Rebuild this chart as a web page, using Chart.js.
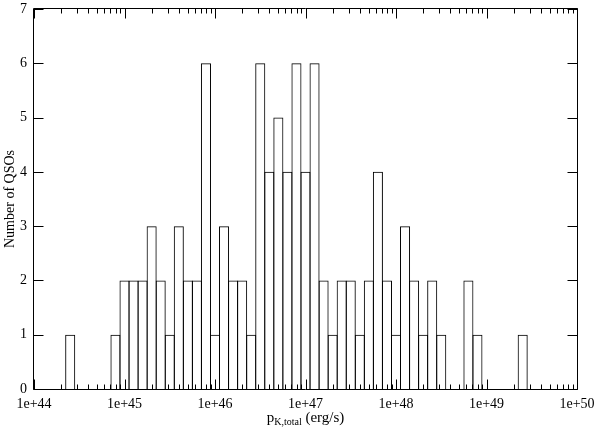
<!DOCTYPE html>
<html>
<head>
<meta charset="utf-8">
<script src="https://cdn.jsdelivr.net/npm/chart.js@4.4.1/dist/chart.umd.min.js"></script>
<style>
  html, body { margin: 0; padding: 0; background: #fff; }
  #wrap { width: 600px; height: 432px; }
</style>
</head>
<body>
<div id="wrap"><canvas id="c" width="600" height="432"></canvas></div>
<script>
// Histogram bins: centres in log10(erg/s), width 0.1 dex
const binCenters = [44.4, 44.9, 45.0, 45.1, 45.2, 45.3, 45.4, 45.5, 45.6, 45.7, 45.8, 45.9,
  46.0, 46.1, 46.2, 46.3, 46.4, 46.5, 46.6, 46.7, 46.8, 46.9, 47.0, 47.1, 47.2, 47.3, 47.4,
  47.5, 47.6, 47.7, 47.8, 47.9, 48.0, 48.1, 48.2, 48.3, 48.4, 48.5, 48.8, 48.9, 49.4];
const counts = [1, 1, 2, 2, 2, 3, 2, 1, 3, 2, 2, 6,
  1, 3, 2, 2, 1, 6, 4, 5, 4, 6, 4, 6, 2, 1, 2,
  2, 1, 2, 4, 2, 1, 3, 2, 1, 2, 1, 2, 1, 1];
const xDecades = [44, 45, 46, 47, 48, 49, 50];
const xTickLabels = ['1e+44', '1e+45', '1e+46', '1e+47', '1e+48', '1e+49', '1e+50'];
const yTicks = [0, 1, 2, 3, 4, 5, 6, 7];
const yTitle = 'Number of QSOs';
const xTitleMain = 'p';
const xTitleSub = 'K,total';
const xTitleUnit = ' (erg/s)';

const SERIF = '"Liberation Serif", "Times New Roman", serif';

const framePlugin = {
  id: 'frame',
  afterDraw(chart) {
    const ctx = chart.ctx;
    const a = chart.chartArea;
    const xs = chart.scales.x, ys = chart.scales.y;
    ctx.save();
    ctx.strokeStyle = '#000';
    ctx.lineWidth = 1;
    const L = Math.round(a.left) - 0.5, R = Math.round(a.right) + 0.5;
    const T = Math.round(a.top) - 0.5, B = Math.round(a.bottom) + 0.5;
    ctx.beginPath();
    ctx.rect(L, T, R - L, B - T);
    ctx.stroke();
    // x ticks (inward, top and bottom)
    ctx.beginPath();
    for (let d = xDecades[0]; d <= xDecades[xDecades.length - 1]; d++) {
      for (let k = 1; k <= 9; k++) {
        const v = d + Math.log10(k);
        if (v > xDecades[xDecades.length - 1] + 1e-9) break;
        const len = (k === 1) ? 10 : 5;
        const px = Math.round(xs.getPixelForValue(v)) + 0.5;
        ctx.moveTo(px, B); ctx.lineTo(px, B - len);
        ctx.moveTo(px, T); ctx.lineTo(px, T + len);
      }
    }
    // y ticks (inward, left and right)
    yTicks.forEach(v => {
      const py = Math.round(ys.getPixelForValue(v)) + 0.5;
      ctx.moveTo(L, py); ctx.lineTo(L + 10, py);
      ctx.moveTo(R, py); ctx.lineTo(R - 10, py);
    });
    ctx.stroke();

    // x title with subscript
    ctx.fillStyle = '#000';
    ctx.textBaseline = 'alphabetic';
    ctx.textAlign = 'left';
    const mainFont = '15px ' + SERIF, subFont = '10px ' + SERIF;
    ctx.font = mainFont; const w1 = ctx.measureText(xTitleMain).width;
    ctx.font = subFont;  const w2 = ctx.measureText(xTitleSub).width;
    ctx.font = mainFont; const w3 = ctx.measureText(xTitleUnit).width;
    const cx = (a.left + a.right) / 2;
    let x0 = cx - (w1 + w2 + w3) / 2;
    const base = 421.5;
    ctx.font = mainFont; ctx.fillText(xTitleMain, x0, base);
    ctx.font = subFont;  ctx.fillText(xTitleSub, x0 + w1, base + 3.5);
    ctx.font = mainFont; ctx.fillText(xTitleUnit, x0 + w1 + w2, base);

    // y title
    ctx.save();
    ctx.translate(10, (a.top + a.bottom) / 2);
    ctx.rotate(-Math.PI / 2);
    ctx.textAlign = 'center';
    ctx.textBaseline = 'middle';
    ctx.font = '14px ' + SERIF;
    ctx.fillText(yTitle, 0, 0);
    ctx.restore();
    ctx.restore();
  }
};

const binPx = 9.05;
new Chart(document.getElementById('c'), {
  type: 'bar',
  data: {
    datasets: [{
      data: binCenters.map((c, i) => ({ x: c, y: counts[i] })),
      backgroundColor: 'rgba(255,255,255,0)',
      borderColor: '#000',
      borderWidth: 1,
      borderSkipped: 'start',
      barPercentage: (binPx + 1) / binPx,
      categoryPercentage: 1.0
    }]
  },
  options: {
    responsive: false,
    animation: false,
    events: [],
    layout: { padding: { top: 9, right: 23, left: 0, bottom: 0 } },
    plugins: { legend: { display: false }, tooltip: { enabled: false } },
    scales: {
      x: {
        type: 'linear',
        min: 44, max: 50,
        offset: false,
        grid: { display: false, offset: false, drawTicks: false },
        border: { display: false },
        afterBuildTicks(scale) { scale.ticks = xDecades.map(v => ({ value: v })); },
        ticks: {
          autoSkip: false,
          maxRotation: 0,
          padding: 7,
          color: '#000',
          font: { family: SERIF, size: 14 },
          callback: (v) => xTickLabels[xDecades.indexOf(v)] ?? ''
        },
        afterFit(scale) {
          scale.height = 43;
          scale.paddingLeft = 0; scale.paddingRight = 0;
          scale.paddingTop = 0; scale.paddingBottom = 0;
        }
      },
      y: {
        type: 'linear',
        min: 0, max: 7,
        grid: { display: false, drawTicks: false },
        border: { display: false },
        afterBuildTicks(scale) { scale.ticks = yTicks.map(v => ({ value: v })); },
        ticks: {
          padding: 7,
          color: '#000',
          font: { family: SERIF, size: 14 }
        },
        afterFit(scale) {
          scale.width = 34;
          scale.paddingLeft = 0; scale.paddingRight = 0;
          scale.paddingTop = 0; scale.paddingBottom = 0;
        }
      }
    }
  },
  plugins: [framePlugin]
});
</script>
</body>
</html>
